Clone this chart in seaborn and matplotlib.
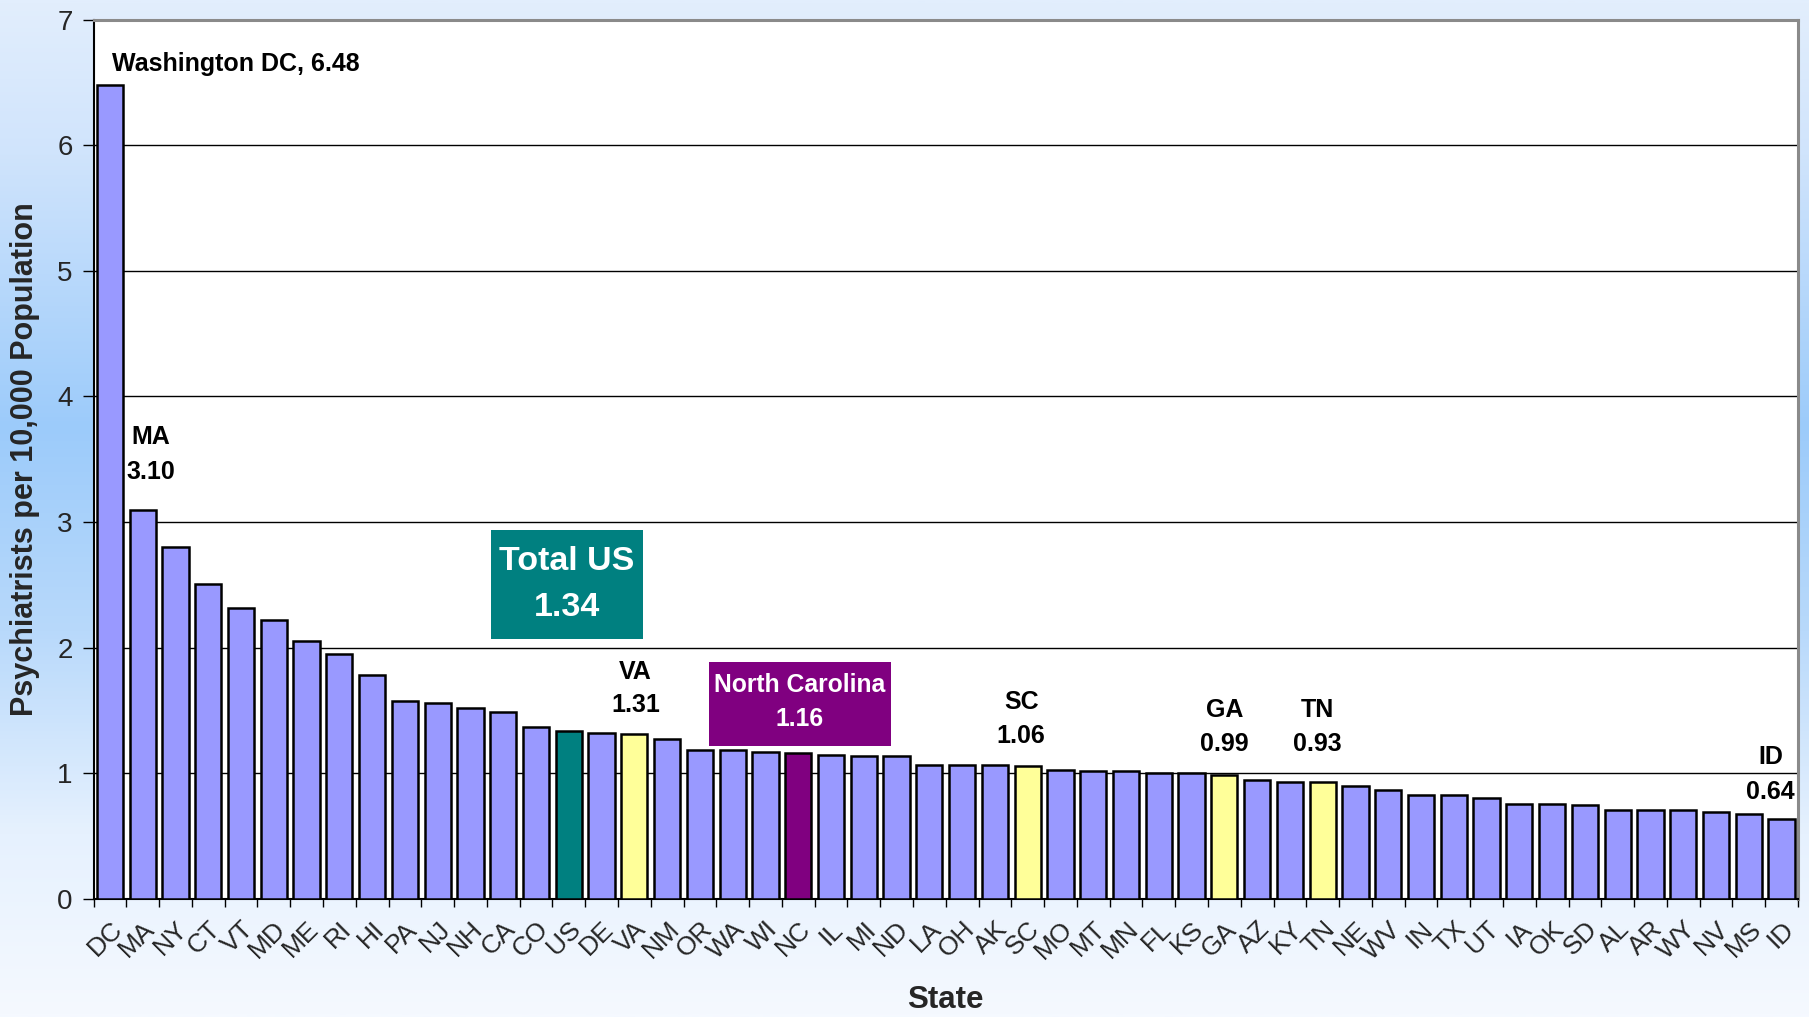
import numpy as np
import pandas as pd
import matplotlib
matplotlib.use("Agg")
import matplotlib.pyplot as plt
import seaborn as sns
from matplotlib.colors import LinearSegmentedColormap
from matplotlib.patches import Rectangle

# ---------------- data ----------------
states = ["DC", "MA", "NY", "CT", "VT", "MD", "ME", "RI", "HI", "PA", "NJ", "NH",
          "CA", "CO", "US", "DE", "VA", "NM", "OR", "WA", "WI", "NC", "IL", "MI",
          "ND", "LA", "OH", "AK", "SC", "MO", "MT", "MN", "FL", "KS", "GA", "AZ",
          "KY", "TN", "NE", "WV", "IN", "TX", "UT", "IA", "OK", "SD", "AL", "AR",
          "WY", "NV", "MS", "ID"]
values = [6.48, 3.10, 2.80, 2.51, 2.32, 2.22, 2.05, 1.95, 1.78, 1.58, 1.56, 1.52,
          1.49, 1.37, 1.34, 1.32, 1.31, 1.27, 1.19, 1.19, 1.17, 1.16, 1.15, 1.14,
          1.14, 1.07, 1.07, 1.07, 1.06, 1.03, 1.02, 1.02, 1.00, 1.00, 0.99, 0.95,
          0.93, 0.93, 0.90, 0.87, 0.83, 0.83, 0.80, 0.76, 0.76, 0.75, 0.71, 0.71,
          0.71, 0.69, 0.68, 0.64]
us_states = ["US"]
nc_states = ["NC"]
neighbor_states = ["VA", "SC", "GA", "TN"]
yticks = [0, 1, 2, 3, 4, 5, 6, 7]

# ---------------- style ----------------
sns.set_theme(style="white")
plt.rcParams['font.family'] = ['Liberation Sans', 'DejaVu Sans']

BASE = "#9999FF"
TEAL = "#008080"
PURPLE = "#800080"
YELLOW = "#FFFF99"
palette = {}
for s in states:
    if s in us_states:
        palette[s] = TEAL
    elif s in nc_states:
        palette[s] = PURPLE
    elif s in neighbor_states:
        palette[s] = YELLOW
    else:
        palette[s] = BASE

W, H = 1809, 1017
fig = plt.figure(figsize=(W / 100, H / 100), dpi=100)

# background gradient
bg = fig.add_axes([0, 0, 1, 1], zorder=-10)
cmap = LinearSegmentedColormap.from_list(
    "bg", [(0.0, "#e2eefd"), (0.15, "#d0e4fc"), (0.42, "#9ccbfa"),
           (0.62, "#b8d9fb"), (0.82, "#e6f1fe"), (1.0, "#f5f9ff")])
grad = np.linspace(0, 1, 512).reshape(-1, 1)
bg.imshow(grad, aspect="auto", cmap=cmap, extent=[0, 1, 0, 1], origin="upper")
bg.axis("off")

left, right, top, bottom = 93.5, 1798, 19.6, 899
ax = fig.add_axes([left / W, 1 - bottom / H, (right - left) / W, (bottom - top) / H])
ax.set_facecolor("white")

df = pd.DataFrame({"state": states, "value": values})
sns.barplot(data=df, x="state", y="value", hue="state", palette=palette,
            legend=False, order=states, width=0.8, saturation=1,
            edgecolor="black", linewidth=1.8, ax=ax, zorder=3)

ax.set_xlim(-0.5, len(states) - 0.5)
ax.set_ylim(0, 7)
ax.set_yticks(yticks)
ax.yaxis.grid(True, color="black", linewidth=1.0)
ax.xaxis.grid(False)
ax.set_axisbelow(True)

for side in ["top", "right"]:
    ax.spines[side].set_color("#8a8a8a")
    ax.spines[side].set_linewidth(2.2)
for side in ["left", "bottom"]:
    ax.spines[side].set_color("black")
    ax.spines[side].set_linewidth(1.5)

ax.tick_params(axis="y", which="major", length=8, width=1, direction="out",
               color="black", labelsize=20, pad=7, left=True)
ax.set_xticks(np.arange(-0.5, len(states), 1), minor=True)
ax.tick_params(axis="x", which="minor", length=6, width=1, direction="out",
               color="black", bottom=True)
ax.tick_params(axis="x", which="major", length=0, labelsize=19, pad=13)
plt.setp(ax.get_xticklabels(), rotation=45, ha="right", va="top",
         rotation_mode="anchor")

ax.set_xlabel("State", fontsize=22.5, fontweight="bold", va="center")
ax.xaxis.set_label_coords(0.5, -0.115)
ax.set_ylabel("Psychiatrists per 10,000 Population", fontsize=22,
              fontweight="bold", va="center", ha="center")
ax.yaxis.set_label_coords(-0.040, 0.5)

# ---------------- annotations ----------------
lab = dict(fontsize=18, fontweight="bold", color="black", ha="center",
           va="center", zorder=6)
ax.text(0.06, 6.65, "Washington DC, 6.48", **{**lab, "ha": "left"})
ax.text(1.25, 3.68, "MA", **lab)
ax.text(1.25, 3.40, "3.10", **lab)
ax.text(16.03, 1.81, "VA", **lab)
ax.text(16.03, 1.545, "1.31", **lab)
ax.text(27.8, 1.571, "SC", **lab)
ax.text(27.8, 1.30, "1.06", **lab)
ax.text(34.0, 1.505, "GA", **lab)
ax.text(34.0, 1.234, "0.99", **lab)
ax.text(36.84, 1.505, "TN", **lab)
ax.text(36.84, 1.234, "0.93", **lab)
ax.text(50.67, 1.128, "ID", **lab)
ax.text(50.67, 0.854, "0.64", **lab)

# Total US box
ax.add_patch(Rectangle((11.63, 2.07), 16.26 - 11.63, 2.94 - 2.07,
                       facecolor=TEAL, edgecolor="none", zorder=5))
ax.text(13.94, 2.69, "Total US", fontsize=24.5, fontweight="bold", color="white",
        ha="center", va="center", zorder=6)
ax.text(13.94, 2.32, "1.34", fontsize=24.5, fontweight="bold", color="white",
        ha="center", va="center", zorder=6)

# North Carolina box
ax.add_patch(Rectangle((18.28, 1.22), 23.83 - 18.28, 1.887 - 1.22,
                       facecolor=PURPLE, edgecolor="none", zorder=5))
ax.text(21.05, 1.705, "North Carolina", fontsize=17.8, fontweight="bold",
        color="white", ha="center", va="center", zorder=6)
ax.text(21.05, 1.432, "1.16", fontsize=17.8, fontweight="bold",
        color="white", ha="center", va="center", zorder=6)

fig.savefig("out.png", dpi=100)
